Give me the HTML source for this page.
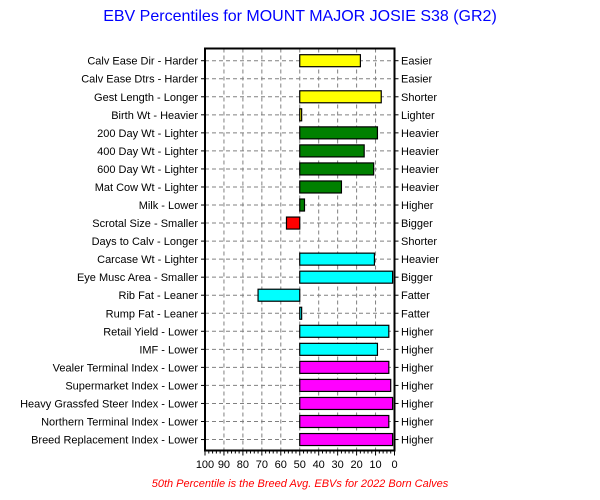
<!DOCTYPE html>
<html><head><meta charset="utf-8"><style>
body{margin:0;background:#fff;width:600px;height:495px;overflow:hidden;font-family:"Liberation Sans",sans-serif}
</style></head><body>
<svg id="chart" width="600" height="495" xmlns="http://www.w3.org/2000/svg" font-family="Liberation Sans, sans-serif">
<text x="300" y="21" text-anchor="middle" font-size="16" fill="#0000ff">EBV Percentiles for MOUNT MAJOR JOSIE S38 (GR2)</text>
<text x="300" y="487" text-anchor="middle" font-size="11" font-style="italic" fill="#ff0000">50th Percentile is the Breed Avg. EBVs for 2022 Born Calves</text>
<g id="grid"></g><g id="bars"></g><g id="axes"></g>
</svg>
<script>
const traitsLeft=["Calv Ease Dir - Harder","Calv Ease Dtrs - Harder","Gest Length - Longer","Birth Wt - Heavier","200 Day Wt - Lighter","400 Day Wt - Lighter","600 Day Wt - Lighter","Mat Cow Wt - Lighter","Milk - Lower","Scrotal Size - Smaller","Days to Calv - Longer","Carcase Wt - Lighter","Eye Musc Area - Smaller","Rib Fat - Leaner","Rump Fat - Leaner","Retail Yield - Lower","IMF - Lower","Vealer Terminal Index - Lower","Supermarket Index - Lower","Heavy Grassfed Steer Index - Lower","Northern Terminal Index - Lower","Breed Replacement Index - Lower"];
const traitsRight=["Easier","Easier","Shorter","Lighter","Heavier","Heavier","Heavier","Heavier","Higher","Bigger","Shorter","Heavier","Bigger","Fatter","Fatter","Higher","Higher","Higher","Higher","Higher","Higher","Higher"];
const percentiles=[18,null,7,49,9,16,11,28,47.5,57,null,10.6,1,72,49,3,9,3,2,1,3,1];
const colors=["#ffff00","#ffff00","#ffff00","#ffff00","#008000","#008000","#008000","#008000","#008000","#ff0000","#ff0000","#00ffff","#00ffff","#00ffff","#00ffff","#00ffff","#00ffff","#ff00ff","#ff00ff","#ff00ff","#ff00ff","#ff00ff"];
const xTicks=[100,90,80,70,60,50,40,30,20,10,0];
const NS="http://www.w3.org/2000/svg";
const L=205,R=394.5,T=48.5,B=450.5,row0=60.7,rowH=18.04;
const xs=v=>R-(R-L)*v/100;
const ys=i=>row0+i*rowH;
function mk(p,tag,a){const e=document.createElementNS(NS,tag);for(const k in a)e.setAttribute(k,a[k]);p.appendChild(e);return e;}
const g=document.getElementById('grid'),bg=document.getElementById('bars'),ax=document.getElementById('axes');
xTicks.forEach(v=>{if(v===0||v===100)return;
const l=mk(g,'line',{x1:xs(v),x2:xs(v),y1:T,y2:B,stroke:'#808080','stroke-dasharray':'4,3'});

});
traitsLeft.forEach((t,i)=>{
const l=mk(g,'line',{x1:L,x2:R,y1:ys(i),y2:ys(i),stroke:'#808080','stroke-dasharray':'4,3'});


const a=mk(ax,'text',{x:198,y:ys(i)+4,'text-anchor':'end','font-size':11});a.textContent=t;


const b=mk(ax,'text',{x:401,y:ys(i)+4,'font-size':11});b.textContent=traitsRight[i];


mk(ax,'line',{x1:L-4,x2:L,y1:ys(i),y2:ys(i),stroke:'#000'});
mk(ax,'line',{x1:R,x2:R+4,y1:ys(i),y2:ys(i),stroke:'#000'});
const v=percentiles[i];if(v===null)return;
const x0=Math.min(xs(50),xs(v)),w=Math.max(Math.abs(xs(v)-xs(50)),1.5);
const r=mk(bg,'rect',{x:x0,y:ys(i)-6,width:w,height:12,fill:colors[i],stroke:'#000','stroke-width':1.2});


});
const fr=mk(ax,'rect',{x:L,y:T,width:R-L,height:B-T,fill:'none',stroke:'#000','stroke-width':2});


for(let v=0;v<=100;v+=2){mk(ax,'line',{x1:xs(v),x2:xs(v),y1:B,y2:B+(v%10===0?5:3),stroke:'#000'});}
xTicks.forEach(v=>{const t=mk(ax,'text',{x:xs(v),y:468,'text-anchor':'middle','font-size':11});t.textContent=v;

});
</script>
</body></html>
